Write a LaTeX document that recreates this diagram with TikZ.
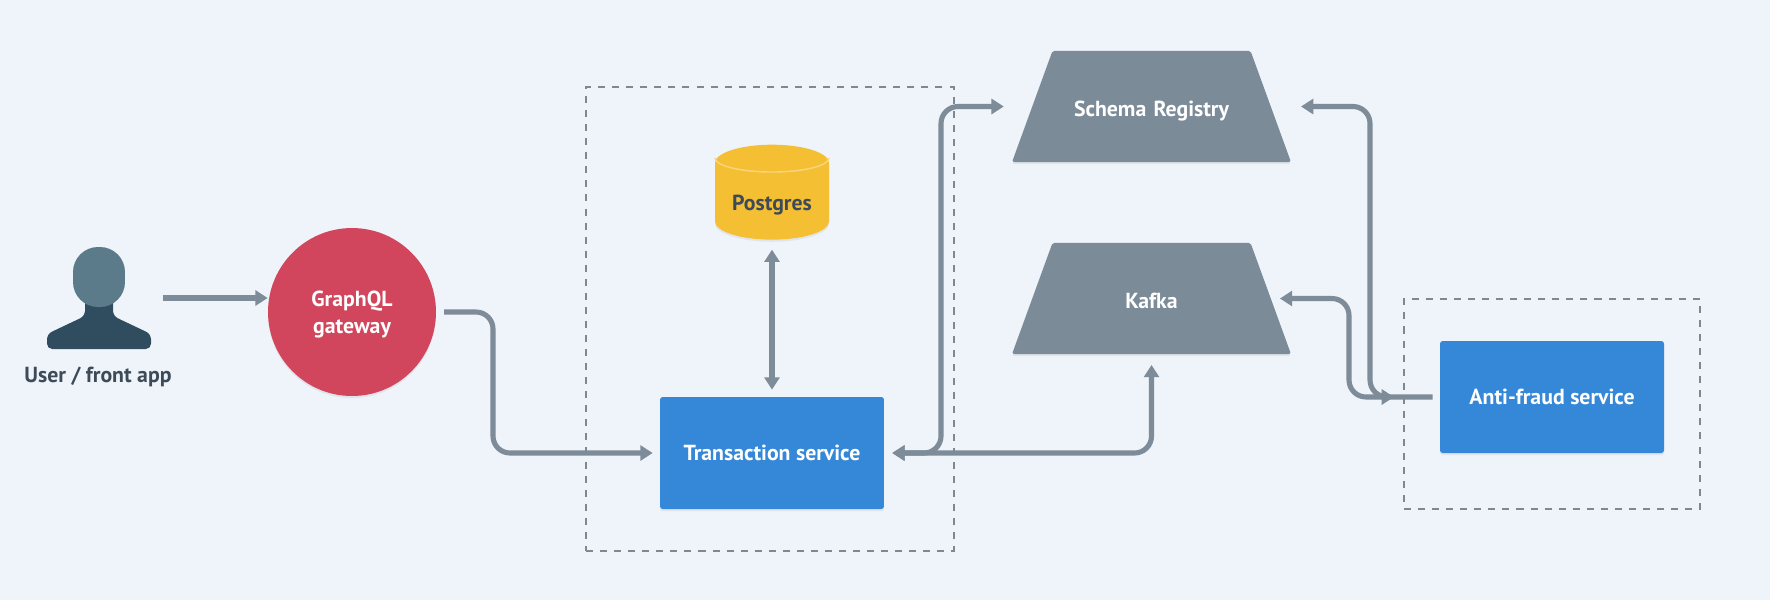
\documentclass[tikz,border=0pt]{standalone}
\usepackage{fontspec}
\setmainfont{PT Sans}
\usetikzlibrary{arrows.meta, shapes.geometric, shadows}

\definecolor{canvas}{HTML}{EFF3FA}
\definecolor{linkgray}{HTML}{7E8B98}
\definecolor{dashgray}{HTML}{7F8890}
\definecolor{slategray}{HTML}{7C8B98}
\definecolor{boxblue}{HTML}{3588D8}
\definecolor{gatewayred}{HTML}{D1465C}
\definecolor{dbyellow}{HTML}{F5BF33}
\definecolor{dbrim}{HTML}{F9D67E}
\definecolor{userhead}{HTML}{5B7A8A}
\definecolor{userbody}{HTML}{2F4D5F}
\definecolor{labeldark}{HTML}{3D4A58}

\tikzset{
    softshadow/.style={drop shadow={shadow xshift=0pt, shadow yshift=-1.2pt, opacity=0.12}},
    label font/.style={font=\fontsize{12.4}{17}\selectfont\bfseries},
    service/.style={draw=none, fill=boxblue, rounded corners=1.5pt, text height=9.5pt, text depth=0.5pt, minimum width=4.48cm, minimum height=2.24cm, text=white, label font, softshadow},
    broker/.style={trapezium, trapezium stretches body=true, trapezium angle=70, fill=slategray, rounded corners=1pt, text width=3.2cm, text height=11.5pt, text depth=0.5pt, align=center, inner ysep=0.9cm, minimum width=5.58cm, text=white, label font, softshadow},
    scopebox/.style={draw=dashgray, line width=1.2pt, dash pattern=on 4pt off 4pt},
    link/.style={draw=linkgray, line width=2.9pt, rounded corners=0.34cm, >={Triangle[length=7pt, width=8.5pt]}}
}

\begin{document}
\begin{tikzpicture}[x=0.02cm, y=-0.02cm]
        % Canvas
        \fill[canvas] (0, 0) rectangle (1770, 600);

        % Dashed scopes
        \node[scopebox, minimum width=7.36cm, minimum height=9.28cm] (txscope) at (770, 319) {};
        \node[scopebox, minimum width=5.92cm, minimum height=4.2cm] (fraudscope) at (1552, 404) {};

        % User
        \fill[userbody, rounded corners=3pt] (47, 349) -- (47, 334) -- (85, 316) -- (85, 290) -- (113, 290) -- (113, 316) -- (151, 334) -- (151, 349) -- cycle;
        \node[fill=userhead, rounded corners=0.5cm, minimum width=1.04cm, minimum height=1.2cm] (userhead) at (99, 277) {};
        \node[text=labeldark, label font] (userlabel) at (98, 377) {User / front app};
        \coordinate (userout) at (163, 298);

        % Gateway
        \node[circle, fill=gatewayred, minimum size=3.36cm, align=center, text=white, label font, softshadow] (gateway) at (352, 312) {\rule{0pt}{12pt}GraphQL\\[-1.5pt]gateway};

        % Services
        \node[service] (transaction) at (772, 453) {Transaction service};
        \node[service] (antifraud) at (1552, 397) {Anti-fraud service};

        % Postgres
        \node[cylinder, shape border rotate=90, aspect=0.4, fill=dbyellow, minimum width=2.28cm, minimum height=1.9cm, text=labeldark, label font, softshadow] (postgres) at (772, 205.5) {\raisebox{-0.7pt}{Postgres}};
        \draw[dbrim, line width=0.8pt] (715, 158) arc[start angle=180, end angle=0, x radius=57, y radius=14];

        % Brokers
        \node[broker] (schema) at (1151.5, 106.5) {Schema Registry};
        \node[broker] (kafka) at (1151.5, 298.5) {Kafka};

        % Bends
        \coordinate (bendgateway) at (493, 380);
        \coordinate (bendschema) at (941, 280);
        \coordinate (bendfraudschema) at (1370, 250);
        \coordinate (bendfraudkafka) at (1349, 350);

        % Links
        \draw[link, ->] (userout) -- (gateway.west |- userout);
        \draw[link, ->, shorten <=4.5pt, shorten >=4pt] (gateway.east) -| (bendgateway) |- (transaction.west);
        \draw[link, <->, shorten <=5.5pt, shorten >=4pt] (postgres.south) -- (transaction.north);
        \draw[link, <->, shorten <=4.5pt, shorten >=16pt] (transaction.east) -| (bendschema) |- (schema.west);
        \draw[link, <->, shorten <=4.5pt, shorten >=6pt] (transaction.east) -| (kafka.south);
        \draw[link, ->, shorten <=4pt, shorten >=17pt] (antifraud.west) -| (bendfraudschema) |- (schema.east);
        \draw[link, <->, shorten <=26pt, shorten >=5pt] (antifraud.west) -| (bendfraudkafka) |- (kafka.east);
    \end{tikzpicture}
\end{document}
